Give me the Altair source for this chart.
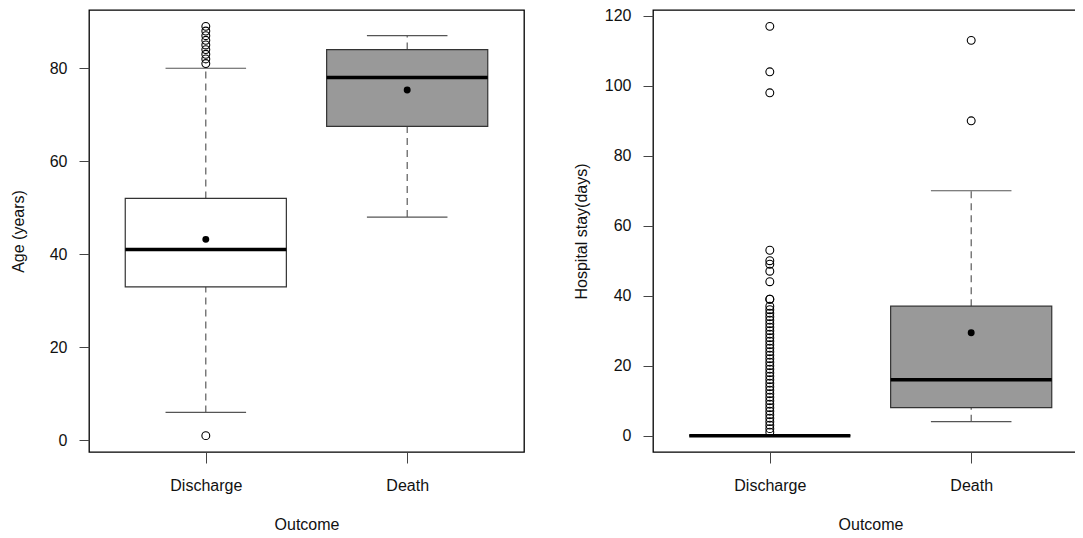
import altair as alt
import pandas as pd

# ---- data ----
outcomes = ["Discharge", "Death"]

age_whisker_low = [6, 48]
age_q1 = [33, 67.5]
age_median = [41, 78]
age_q3 = [52, 84]
age_whisker_high = [80, 87]
age_mean = [43.2, 75.3]
age_outliers_discharge = [1, 81, 82, 83, 84, 85, 86, 87, 88, 89]
age_outliers_death = []

stay_whisker_low = [0, 4]
stay_q1 = [0, 8]
stay_median = [0, 16]
stay_q3 = [0, 37]
stay_whisker_high = [0, 70]
stay_mean = [None, 29.4]
stay_outliers_discharge = list(range(1, 38)) + [39, 39, 44, 47, 49, 50, 53, 98, 104, 117]
stay_outliers_death = [90, 113]

age_ticks = [0, 20, 40, 60, 80]
stay_ticks = [0, 20, 40, 60, 80, 100, 120]
age_domain = [-2.52, 92.52]
stay_domain = [-4.68, 121.68]

BOX_HALF = 0.4
CAP_HALF = 0.2
FONT = "Liberation Sans"
W = 435
H = 442


def stats_table(wlo, q1, med, q3, whi, mean):
    rows = []
    for i, name in enumerate(outcomes):
        pos = i + 1
        rows.append(dict(outcome=name, pos=pos, lo=pos - BOX_HALF, hi=pos + BOX_HALF,
                         clo=pos - CAP_HALF, chi=pos + CAP_HALF,
                         wlo=wlo[i], q1=q1[i], med=med[i], q3=q3[i], whi=whi[i], mean=mean[i]))
    return pd.DataFrame(rows)


def outlier_table(lists):
    rows = []
    for i, vals in enumerate(lists):
        for v in vals:
            rows.append(dict(outcome=outcomes[i], pos=i + 1, val=v))
    return pd.DataFrame(rows, columns=["outcome", "pos", "val"])


label_expr = "datum.value == 1 ? '%s' : '%s'" % (outcomes[0], outcomes[1])


def panel(stats, outl, ydomain, yticks, ytitle, title_pad):
    xscale = alt.Scale(domain=[0.42, 2.58], nice=False, zero=False)
    yscale = alt.Scale(domain=ydomain, nice=False, zero=False)
    xaxis = alt.Axis(values=[1, 2], labelExpr=label_expr, tickSize=11, labelPadding=14,
                     titlePadding=23, title="Outcome")
    yaxis = alt.Axis(values=yticks, tickSize=10, labelPadding=12, titlePadding=title_pad,
                     title=ytitle, format="d")

    def X(f):
        return alt.X(f + ":Q", scale=xscale, axis=xaxis, title="Outcome")

    def Y(f):
        return alt.Y(f + ":Q", scale=yscale, axis=yaxis, title=ytitle)

    base = alt.Chart(stats)
    wl = base.mark_rule(color="#4d4d4d", strokeWidth=1.1, strokeDash=[7, 5]).encode(
        x=X("pos"), y=Y("wlo"), y2="q1:Q")
    wh = base.mark_rule(color="#4d4d4d", strokeWidth=1.1, strokeDash=[7, 5]).encode(
        x=X("pos"), y=Y("q3"), y2="whi:Q")
    cl = base.mark_rule(color="#555555", strokeWidth=1.2).encode(
        x=X("clo"), x2="chi:Q", y=Y("wlo"))
    ch = base.mark_rule(color="#555555", strokeWidth=1.2).encode(
        x=X("clo"), x2="chi:Q", y=Y("whi"))
    box = base.mark_rect(stroke="#333333", strokeWidth=1.2).encode(
        x=X("lo"), x2="hi:Q", y=Y("q1"), y2="q3:Q",
        fill=alt.Fill("outcome:N", scale=alt.Scale(domain=outcomes, range=["#ffffff", "#999999"]),
                      legend=None))
    med = base.mark_rule(color="black", strokeWidth=3.5).encode(
        x=X("lo"), x2="hi:Q", y=Y("med"))
    mean = base.transform_filter("isValid(datum.mean)").mark_point(
        shape="circle", filled=True, color="black", size=48, opacity=1).encode(
        x=X("pos"), y=Y("mean"))
    outs = alt.Chart(outl).mark_point(shape="circle", filled=False, color="black",
                                      strokeWidth=1.1, size=62, opacity=1).encode(
        x=X("pos"), y=Y("val"))
    return alt.layer(wl, wh, cl, ch, box, med, mean, outs).properties(width=W, height=H)


left = panel(stats_table(age_whisker_low, age_q1, age_median, age_q3, age_whisker_high, age_mean),
             outlier_table([age_outliers_discharge, age_outliers_death]),
             age_domain, age_ticks, "Age (years)", 23)
right = panel(stats_table(stay_whisker_low, stay_q1, stay_median, stay_q3, stay_whisker_high, stay_mean),
              outlier_table([stay_outliers_discharge, stay_outliers_death]),
              stay_domain, stay_ticks, "Hospital stay(days)", 15)

# plot areas placed directly (flush layout); the drawing is 1067x522 so that the page
# (with its 8px margins) fits the window; the right panel runs past the edge as in the reference
chart = alt.hconcat(left, right, spacing=129, bounds="flush").properties(
    autosize=alt.AutoSizeParams(type="none"),
    padding={"left": 81, "top": 2, "right": 986, "bottom": 520},
).configure_view(stroke="black", strokeWidth=1.3).configure_axis(
    domain=False, grid=False, tickColor="#444444", tickWidth=1,
    labelFont=FONT, labelFontSize=16, labelColor="#111111",
    titleFont=FONT, titleFontSize=16, titleFontWeight="normal", titleColor="#111111"
)

chart.save("out.html", embed_options={"renderer": "svg", "actions": False})
